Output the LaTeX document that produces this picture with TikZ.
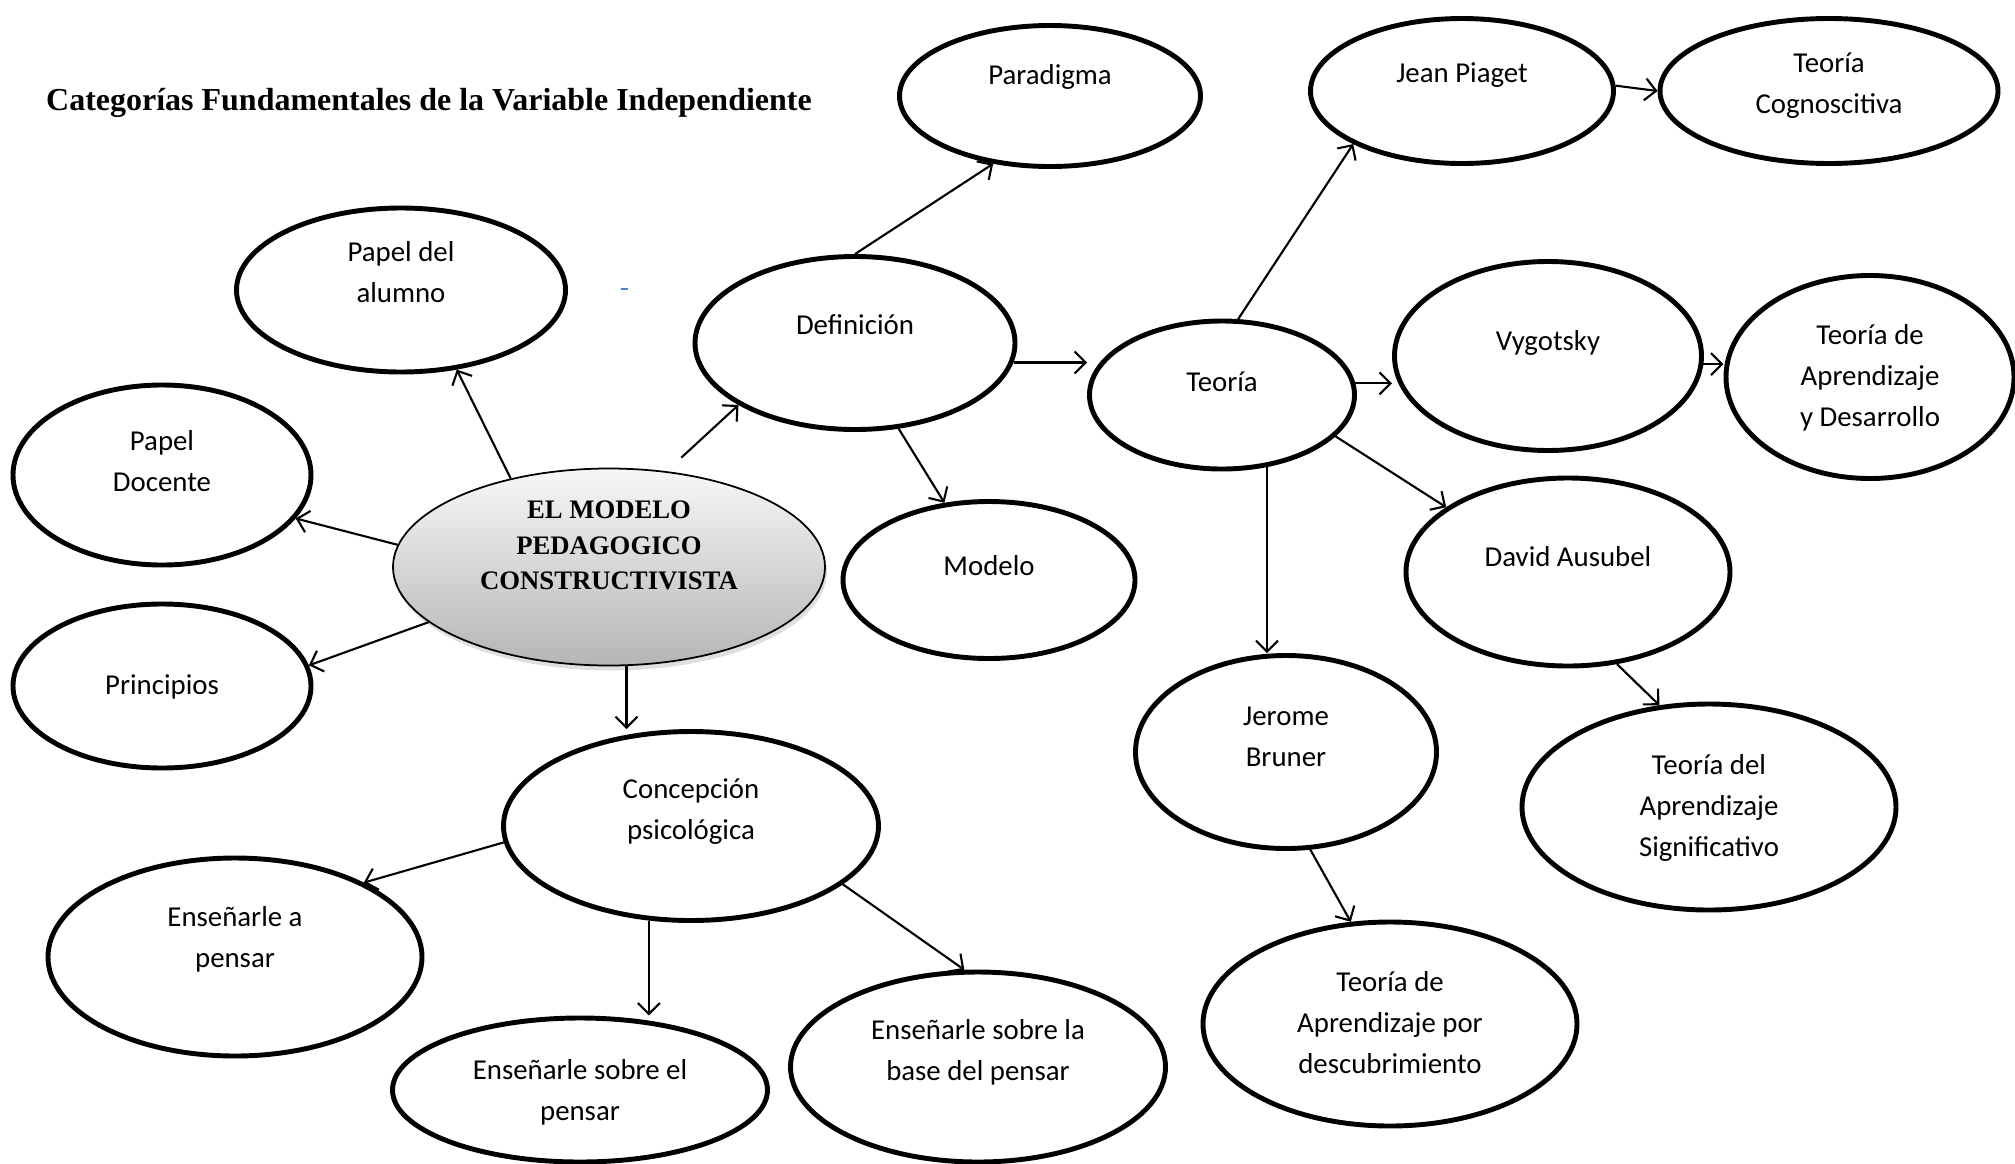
\documentclass[tikz,border=0pt]{standalone}
\usepackage{fontspec}
\setmainfont{Carlito}
\newfontfamily\timesfont{Liberation Serif}
\usetikzlibrary{arrows.meta,
                positioning,
                shadows,
                shapes.geometric}

\definecolor{dashblue}{RGB}{79,129,189}

% text of an oval, raised by #1
\newcommand{\ovaltext}[2]{\smash{\raisebox{\dimexpr #1-2pt\relax}{\begin{tabular}{@{}c@{}}#2\end{tabular}}}}

\tikzset{
    idea/.style={ellipse, draw, line width=1.4pt, inner sep=0pt,
                 font=\fontsize{8.2}{11.7}\selectfont},
    core/.style={ellipse, draw, line width=0.5pt, inner sep=0pt,
                 top color=gray!6, bottom color=gray!58,
                 drop shadow={shadow xshift=0.2mm, shadow yshift=-0.5mm, opacity=0.25},
                 font=\timesfont\bfseries\fontsize{7.6}{10.1}\selectfont},
    link/.style={->, line width=0.6pt}
}

\begin{document}
\begin{tikzpicture}[x=1mm, y=-1mm, >={Straight Barb[length=1.1mm, width=2.2mm]}]
    \useasboundingbox (0,0) rectangle (201.5,116.3);

    \node[font=\timesfont\bfseries\fontsize{9.1}{11}\selectfont] (titulo) at (42.9,10.3) {Categorías Fundamentales de la Variable Independiente};
    \draw[color=dashblue, line width=0.25mm] (62.1,28.9) -- (62.8,28.9);

    % centre
    \node[core, minimum width=43.2mm, minimum height=19.7mm] (centro) at (60.9,56.7) {\ovaltext{2.0mm}{EL MODELO\\PEDAGOGICO\\CONSTRUCTIVISTA}};

    % left side
    \node[idea, minimum width=32.9mm, minimum height=16.4mm] (alumno) at (40.1,29.0) {\ovaltext{1.6mm}{Papel del\\alumno}};
    \node[idea, minimum width=29.8mm, minimum height=18.0mm] (docente) at (16.2,47.5) {\ovaltext{1.2mm}{Papel\\Docente}};
    \node[idea, minimum width=29.8mm, minimum height=16.4mm] (principios) at (16.2,68.6) {\ovaltext{0mm}{Principios}};

    % definicion
    \node[idea, minimum width=32.0mm, minimum height=17.3mm] (defin) at (85.5,34.3) {\ovaltext{1.7mm}{Definición}};
    \node[idea, minimum width=30.1mm, minimum height=14.1mm] (paradigma) at (105.0,9.6) {\ovaltext{2.0mm}{Paradigma}};
    \node[idea, minimum width=29.2mm, minimum height=15.7mm] (modelo) at (98.9,58.0) {\ovaltext{1.3mm}{Modelo}};

    % teoria
    \node[idea, minimum width=26.5mm, minimum height=14.8mm] (teoria) at (122.2,39.5) {\ovaltext{1.2mm}{Teoría}};
    \node[idea, minimum width=30.3mm, minimum height=14.5mm] (piaget) at (146.2,9.1) {\ovaltext{1.7mm}{Jean Piaget}};
    \node[idea, minimum width=33.8mm, minimum height=14.5mm] (cognos) at (182.9,9.1) {\ovaltext{0.6mm}{Teoría\\Cognoscitiva}};
    \node[idea, minimum width=30.7mm, minimum height=18.9mm] (vygotsky) at (154.8,35.6) {\ovaltext{1.4mm}{Vygotsky}};
    \node[idea, minimum width=28.8mm, minimum height=20.3mm] (desarrollo) at (187.0,37.7) {\ovaltext{0mm}{Teoría de\\Aprendizaje\\y Desarrollo}};
    \node[idea, minimum width=32.4mm, minimum height=18.8mm] (ausubel) at (156.8,57.2) {\ovaltext{1.4mm}{David Ausubel}};
    \node[idea, minimum width=37.4mm, minimum height=20.6mm] (significativo) at (170.9,80.7) {\ovaltext{0mm}{Teoría del\\Aprendizaje\\Significativo}};
    \node[idea, minimum width=30.1mm, minimum height=19.3mm] (bruner) at (128.6,75.2) {\ovaltext{1.4mm}{Jerome\\Bruner}};
    \node[idea, minimum width=37.4mm, minimum height=20.4mm] (descub) at (139.0,102.4) {\ovaltext{0mm}{Teoría de\\Aprendizaje por\\descubrimiento}};

    % concepcion
    \node[idea, minimum width=37.5mm, minimum height=18.9mm] (concepcion) at (69.1,82.6) {\ovaltext{1.5mm}{Concepción\\psicológica}};
    \node[idea, minimum width=37.4mm, minimum height=19.8mm] (pensar1) at (23.5,95.7) {\ovaltext{1.8mm}{Enseñarle a\\pensar}};
    \node[idea, minimum width=37.5mm, minimum height=14.4mm] (pensar2) at (58.0,109.0) {\ovaltext{-0.2mm}{Enseñarle sobre el\\pensar}};
    \node[idea, minimum width=37.5mm, minimum height=19.0mm] (pensar3) at (97.8,106.7) {\ovaltext{1.5mm}{Enseñarle sobre la\\base del pensar}};

    % connectors
    \draw[link] (centro.138) -- (alumno.305);
    \draw[link] (centro.174) -- (docente.342);
    \draw[link] (centro.197) -- (principios.8);
    \draw[link, shorten <=2mm] (centro.59) -- (defin.208);
    \draw[link] (centro.280) -- (centro.280 |- concepcion.north);

    \draw[link] (defin.north) -- (paradigma.230);
    \draw[link] (defin.-7) -- (defin.-7 -| teoria.west);
    \draw[link] (defin.297) -- (modelo.120);

    \draw[link] (teoria.78) -- (piaget.206);
    \draw[link] (piaget.2) -- (cognos.west);
    \draw[link] (teoria.5) -- (teoria.5 -| vygotsky.west);
    \draw[link] (vygotsky.-3) -- (vygotsky.-3 -| desarrollo.west);
    \draw[link] (teoria.340) -- (ausubel.152);
    \draw[link] (teoria.302) -- (teoria.302 |- bruner.north);
    \draw[link] (ausubel.298) -- (significativo.116);
    \draw[link] (bruner.284) -- (descub.111);

    \draw[link] (concepcion.185) -- (pensar1.30);
    \draw[link] (concepcion.246) -- (concepcion.246 |- pensar2.north);
    \draw[link] (concepcion.339) -- (pensar3.98);
\end{tikzpicture}
\end{document}
